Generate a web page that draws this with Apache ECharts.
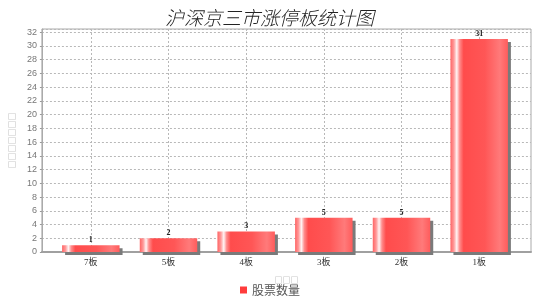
<!DOCTYPE html>
<html><head><meta charset="utf-8">
<script src="https://cdn.jsdelivr.net/npm/echarts@6/dist/echarts.min.js"></script>
<style>html,body{margin:0;padding:0;background:#fff}#c{width:540px;height:304px}</style>
</head><body><div id="c"></div>
<script>
const titleText = '沪深京三市涨停板统计图';
const categories = ['7板', '5板', '4板', '3板', '2板', '1板'];
const seriesName = '股票数量';
const values = [1, 2, 3, 5, 5, 31];
const yMin = 0, yMax = 32.45, yInterval = 2;
const yAxisName = '□□□□□□□';
const xAxisName = '□□□';

const chart = echarts.init(document.getElementById('c'), null, {renderer: 'canvas'});
const barGrad = new echarts.graphic.LinearGradient(0, 0, 1, 0, [
  {offset: 0, color: '#ff6464'},
  {offset: 0.06, color: '#ff9a9a'},
  {offset: 0.11, color: '#fff4f4'},
  {offset: 0.16, color: '#ff8c8c'},
  {offset: 0.23, color: '#ff4c4c'},
  {offset: 0.6, color: '#ff5656'},
  {offset: 0.86, color: '#ff7a7a'},
  {offset: 1, color: '#ff5c5c'}
]);
const grid = '#b8b8b8';
chart.setOption({
  animation: false,
  title: {text: titleText, left: 160, top: 3,
    textStyle: {fontSize: 19, fontStyle: 'italic', fontWeight: 300, color: '#222',
      fontFamily: '"Noto Sans CJK SC", sans-serif'}},
  legend: {data: [{name: seriesName, itemStyle: {color: '#ff3c3c'}}], bottom: 3, left: 'center',
    icon: 'rect', itemWidth: 7, itemHeight: 7, itemGap: 4,
    textStyle: {fontSize: 12, color: '#555', fontFamily: '"Noto Sans CJK SC", sans-serif'}},
  grid: [
    {left: 37, right: 9, top: 29, bottom: 52, show: true, borderColor: '#aaa', borderWidth: 1},
    {left: 52, right: 22, top: 29, bottom: 52}
  ],
  xAxis: [
    {type: 'value', gridIndex: 0, min: 0, max: 1, show: true,
      name: xAxisName, nameLocation: 'middle', nameGap: 24,
      nameTextStyle: {fontSize: 8, color: '#999', fontFamily: '"Noto Sans CJK SC", sans-serif'},
      axisLine: {show: true, onZero: false, lineStyle: {color: '#a0a0a0', width: 2}},
      axisTick: {show: false}, axisLabel: {show: false}, splitLine: {show: false}},
    {type: 'category', gridIndex: 1, data: categories,
      axisLine: {show: false},
      axisTick: {show: true, alignWithLabel: true, length: 2, lineStyle: {color: '#999'}},
      axisLabel: {margin: 6, fontSize: 9, color: '#333',
        fontFamily: '"Liberation Serif", "Noto Sans CJK SC", serif'},
      splitLine: {show: true, alignWithLabel: true, lineStyle: {color: grid, type: [2, 2], width: 1}}}
  ],
  yAxis: [
    {type: 'value', gridIndex: 0, min: yMin, max: yMax, interval: yInterval,
      name: yAxisName, nameLocation: 'middle', nameGap: 20,
      nameTextStyle: {fontSize: 8, color: '#999', fontFamily: '"Noto Sans CJK SC", sans-serif'},
      axisLine: {show: true, lineStyle: {color: '#aaa'}},
      axisTick: {show: true, length: 2, lineStyle: {color: '#999'}},
      axisLabel: {margin: 5, fontSize: 9, color: '#777', showMaxLabel: false,
        fontFamily: '"Liberation Sans", sans-serif',
        formatter: v => (v % yInterval === 0 ? String(v) : '')},
      splitLine: {show: true, lineStyle: {color: grid, type: [2, 2], width: 1}}},
    {type: 'value', gridIndex: 1, min: yMin, max: yMax, interval: yInterval, show: false}
  ],
  series: [{
    name: seriesName, type: 'bar', xAxisIndex: 1, yAxisIndex: 1, data: values,
    barCategoryGap: '26%',
    itemStyle: {color: barGrad, shadowColor: '#7a7a7a', shadowOffsetX: 3, shadowOffsetY: 3, shadowBlur: 0},
    label: {show: true, position: 'top', distance: 1, fontSize: 8, fontWeight: 'bold', color: '#222',
      fontFamily: '"Liberation Serif", serif'}
  }]
});
</script></body></html>
